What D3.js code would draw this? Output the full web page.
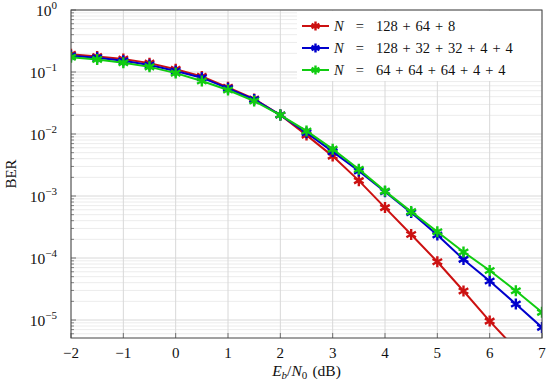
<!DOCTYPE html>
<html>
<head>
<meta charset="utf-8">
<script src="https://cdn.jsdelivr.net/npm/d3@7"></script>
<style>
  body { margin: 0; background: #fff; }
  text { font-family: "Liberation Serif", "DejaVu Serif", serif; fill: #111; }
</style>
</head>
<body>
<div id="chart"></div>
<script>
// Eb/N0 values (dB)
const snr = [-2, -1.5, -1, -0.5, 0, 0.5, 1, 1.5, 2, 2.5, 3, 3.5, 4, 4.5, 5, 5.5, 6, 6.5, 7];

// BER for each code length split
const berA = [0.193, 0.178, 0.162, 0.139, 0.111, 0.085, 0.0566, 0.0367, 0.0202, 0.0096, 0.0044, 0.00177, 0.00065, 0.00024, 0.000087, 0.0000294, 0.0000096, 0.0000034];
const berB = [0.183, 0.170, 0.152, 0.130, 0.104, 0.081, 0.0545, 0.036, 0.0202, 0.0105, 0.0052, 0.00253, 0.00117, 0.00054, 0.000235, 0.000095, 0.0000425, 0.0000181, 0.0000076];
const berC = [0.173, 0.159, 0.141, 0.121, 0.096, 0.0716, 0.0513, 0.034, 0.0202, 0.0112, 0.0057, 0.0027, 0.0012, 0.00056, 0.000266, 0.000125, 0.000063, 0.0000297, 0.0000133];

const seriesNames = [['128', '64', '8'], ['128', '32', '32', '4', '4'], ['64', '64', '64', '4', '4']];
const seriesColors = ['#cc1111', '#0000cc', '#11cc11'];
const seriesData = [berA, berB, berC];

const xTicks = [-2, -1, 0, 1, 2, 3, 4, 5, 6, 7];
const yTickExps = [0, -1, -2, -3, -4, -5];

const svgWidth = 550, svgHeight = 384;
const margin = {top: 10, right: 8, bottom: 46, left: 71};
const width = svgWidth - margin.left - margin.right;
const height = svgHeight - margin.top - margin.bottom;

const svg = d3.select('#chart')
  .append('svg')
  .attr('width', svgWidth)
  .attr('height', svgHeight);

const g = svg.append('g')
  .attr('transform', `translate(${margin.left},${margin.top})`);

const xScale = d3.scaleLinear().domain([-2, 7]).range([0, width]);
const yScale = d3.scaleLog().domain([Math.pow(10, -5.29), 1]).range([height, 0]);

// minor grid (2..9 in each decade)
const minor = [];
for (let e = -6; e < 0; e++) {
  for (let m = 2; m <= 9; m++) {
    const v = m * Math.pow(10, e);
    if (v >= yScale.domain()[0] && v <= 1) minor.push(v);
  }
}
g.selectAll('.minor-grid')
  .data(minor)
  .enter().append('line')
  .attr('x1', 0).attr('x2', width)
  .attr('y1', d => yScale(d)).attr('y2', d => yScale(d))
  .attr('stroke', '#ececec').attr('stroke-width', 1);

// major grid
g.selectAll('.ygrid')
  .data(yTickExps)
  .enter().append('line')
  .attr('x1', 0).attr('x2', width)
  .attr('y1', d => yScale(Math.pow(10, d))).attr('y2', d => yScale(Math.pow(10, d)))
  .attr('stroke', '#d8d8d8').attr('stroke-width', 1);
g.selectAll('.xgrid')
  .data(xTicks)
  .enter().append('line')
  .attr('x1', d => xScale(d)).attr('x2', d => xScale(d))
  .attr('y1', 0).attr('y2', height)
  .attr('stroke', '#d8d8d8').attr('stroke-width', 1);

// inner ticks
g.selectAll('.ytickL')
  .data(minor)
  .enter().append('line')
  .attr('x1', 0).attr('x2', 3)
  .attr('y1', d => yScale(d)).attr('y2', d => yScale(d))
  .attr('stroke', '#666').attr('stroke-width', 0.8);
g.selectAll('.ytickM')
  .data(yTickExps)
  .enter().append('line')
  .attr('x1', 0).attr('x2', 5)
  .attr('y1', d => yScale(Math.pow(10, d))).attr('y2', d => yScale(Math.pow(10, d)))
  .attr('stroke', '#555').attr('stroke-width', 0.8);
g.selectAll('.xtick')
  .data(xTicks)
  .enter().append('line')
  .attr('x1', d => xScale(d)).attr('x2', d => xScale(d))
  .attr('y1', height).attr('y2', height - 5)
  .attr('stroke', '#555').attr('stroke-width', 0.8);

// clip region for the curves
svg.append('clipPath').attr('id', 'plot-clip')
  .append('rect').attr('width', width).attr('height', height);

const line = d3.line()
  .x((d, i) => xScale(snr[i]))
  .y(d => yScale(d));

// pgf asterisk mark
function asterisk(r) {
  let p = '';
  [90, 30, -30].forEach(a => {
    const rad = a * Math.PI / 180;
    const dx = r * Math.cos(rad), dy = r * Math.sin(rad);
    p += `M${-dx},${-dy}L${dx},${dy}`;
  });
  return p;
}

const plot = g.append('g').attr('clip-path', 'url(#plot-clip)');
seriesData.forEach((s, k) => {
  plot.append('path')
    .datum(s)
    .attr('d', line)
    .attr('fill', 'none')
    .attr('stroke', seriesColors[k])
    .attr('stroke-width', 2);
  plot.selectAll('.mk' + k)
    .data(s)
    .enter().append('path')
    .attr('transform', (d, i) => `translate(${xScale(snr[i])},${yScale(d)})`)
    .attr('d', asterisk(5.5))
    .attr('stroke', seriesColors[k])
    .attr('stroke-width', 2.4)
    .attr('fill', 'none');
});

// frame
g.append('rect')
  .attr('width', width).attr('height', height)
  .attr('fill', 'none').attr('stroke', '#444').attr('stroke-width', 1);

// tick labels
g.selectAll('.xlabel')
  .data(xTicks)
  .enter().append('text')
  .attr('x', d => xScale(d))
  .attr('y', height + 20)
  .attr('text-anchor', 'middle')
  .style('font-size', '15px')
  .text(d => d < 0 ? '\u2212' + Math.abs(d) : d);

const ylab = g.selectAll('.ylabel')
  .data(yTickExps)
  .enter().append('text')
  .attr('x', -14)
  .attr('y', d => yScale(Math.pow(10, d)) + 6)
  .attr('text-anchor', 'end')
  .style('font-size', '15.5px');
ylab.append('tspan').text('10');
ylab.append('tspan')
  .attr('dy', -7)
  .style('font-size', '11px')
  .text(d => d < 0 ? '\u2212' + Math.abs(d) : d);

// axis titles
svg.append('text')
  .attr('transform', `translate(16,${margin.top + height / 2}) rotate(-90)`)
  .attr('text-anchor', 'middle')
  .style('font-size', '15px')
  .text('BER');

const xt = svg.append('text')
  .attr('x', margin.left + width / 2)
  .attr('y', svgHeight - 8)
  .attr('text-anchor', 'middle')
  .style('font-size', '15.5px');
xt.append('tspan').style('font-style', 'italic').text('E');
xt.append('tspan').attr('dy', 3).style('font-size', '11px').style('font-style', 'italic').text('b');
xt.append('tspan').attr('dy', -3).text('/');
xt.append('tspan').style('font-style', 'italic').text('N');
xt.append('tspan').attr('dy', 3).style('font-size', '11px').text('0');
xt.append('tspan').attr('dy', -3).text('\u2004(dB)');

// legend
const legend = g.append('g').attr('transform', `translate(${width - 245},1)`);
legend.append('rect')
  .attr('width', 244).attr('height', 70)
  .attr('fill', '#fff');
seriesNames.forEach((parts, k) => {
  const yy = 15 + k * 22;
  legend.append('line')
    .attr('x1', 5).attr('x2', 32)
    .attr('y1', yy).attr('y2', yy)
    .attr('stroke', seriesColors[k]).attr('stroke-width', 2);
  legend.append('path')
    .attr('transform', `translate(18.5,${yy})`)
    .attr('d', asterisk(4.5))
    .attr('stroke', seriesColors[k]).attr('stroke-width', 2.4);
  const t = legend.append('text')
    .attr('x', 37).attr('y', yy + 5)
    .style('font-size', '14.5px');
  t.append('tspan').style('font-style', 'italic').text('N');
  t.append('tspan').text('\u2002\u2004=\u2002\u2004' + parts.join('\u2004+\u2004'));
});
</script>
</body>
</html>
